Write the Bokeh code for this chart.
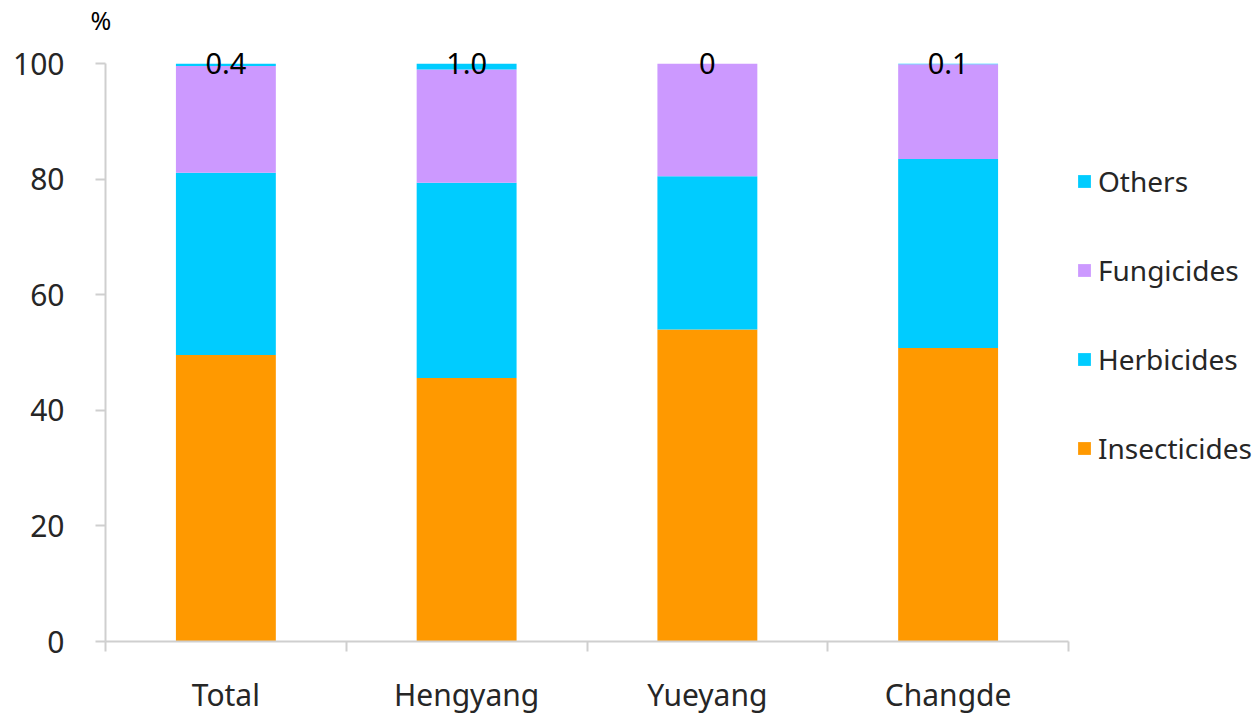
from bokeh.plotting import figure
from bokeh.models import (ColumnDataSource, FixedTicker, Legend, LegendItem, Range1d)
from bokeh.core.properties import value
from bokeh.embed import file_html
from bokeh.resources import INLINE

categories = ["Total", "Hengyang", "Yueyang", "Changde"]
insecticides = [49.6, 45.6, 54.0, 50.8]
herbicides = [31.5, 33.8, 26.5, 32.7]
fungicides = [18.5, 19.6, 19.5, 16.4]
others = [0.4, 1.0, 0.0, 0.1]
series = ["Insecticides", "Herbicides", "Fungicides", "Others"]
colors = ["#FF9900", "#00CCFF", "#CC99FF", "#00CCFF"]
y_ticks = [0, 20, 40, 60, 80, 100]

FONT = "Noto Sans"
AX = "#CFCFCF"
TXT = "#262626"

n = len(categories)
xs = [i + 0.5 for i in range(n)]
tops = [a + b + c + d for a, b, c, d in zip(insecticides, herbicides, fungicides, others)]
labels = ["0" if v == 0 else f"{v:.1f}" for v in others]

src = ColumnDataSource(dict(x=xs, Insecticides=insecticides, Herbicides=herbicides,
                            Fungicides=fungicides, Others=others, top=tops, lab=labels))

# frame spans to the right edge; axis bounds keep the axis to the categories
p = figure(width=1254, height=717, output_backend="svg", toolbar_location=None,
           x_range=Range1d(0, n * 1149 / 963), y_range=Range1d(0, 104.7),
           min_border_left=105, min_border_right=0, min_border_top=30, min_border_bottom=76)
p.outline_line_color = None
p.xgrid.visible = False
p.ygrid.visible = False

p.title.text = "%"
p.title.align = "left"
p.title.offset = -15
p.title.text_font = FONT
p.title.text_font_size = "25px"
p.title.text_font_style = "normal"
p.title.text_color = "#000000"
p.title.standoff = 0

rs = p.vbar_stack(series, x="x", width=0.415, color=colors, line_color=None, source=src)

p.text(x="x", y="top", text="lab", source=src, text_align="center", text_baseline="middle",
       text_font=value(FONT), text_font_size="29px", text_color="#000000")

yax = p.yaxis[0]
yax.ticker = FixedTicker(ticks=y_ticks)
yax.bounds = (0, 100)
yax.axis_line_color = AX
yax.axis_line_width = 2
yax.major_tick_line_color = AX
yax.major_tick_line_width = 2
yax.major_tick_out = 10
yax.major_tick_in = 0
yax.minor_tick_line_color = None
yax.major_label_standoff = 31
yax.major_label_text_font = FONT
yax.major_label_text_font_size = "30px"
yax.major_label_text_color = TXT

xax = p.xaxis[0]
xax.ticker = FixedTicker(ticks=xs, minor_ticks=list(range(n + 1)))
xax.bounds = (0, n)
xax.major_label_overrides = {x: c for x, c in zip(xs, categories)}
xax.axis_line_color = AX
xax.axis_line_width = 2
xax.major_tick_line_color = None
xax.major_tick_out = 0
xax.major_tick_in = 0
xax.minor_tick_line_color = AX
xax.minor_tick_line_width = 2
xax.minor_tick_out = 10
xax.minor_tick_in = 0
xax.major_label_standoff = 22
xax.major_label_text_font = FONT
xax.major_label_text_font_size = "30px"
xax.major_label_text_color = TXT

items = [LegendItem(label=s, renderers=[r]) for s, r in zip(series, rs)][::-1]
legend = Legend(items=items, location=(971, 174), orientation="vertical",
                glyph_width=16, glyph_height=16, label_height=30, spacing=51,
                padding=0, margin=0, border_line_color=None, background_fill_alpha=0,
                label_text_font=FONT, label_text_font_size="28px", label_standoff=6,
                label_text_color=TXT)
p.add_layout(legend, "center")

open("out.html", "w").write(file_html(p, INLINE))
